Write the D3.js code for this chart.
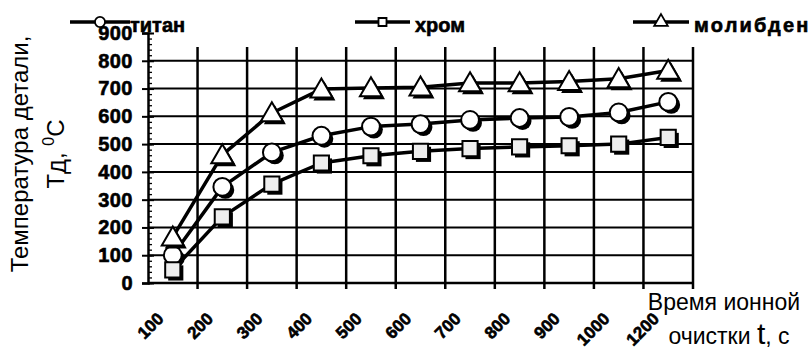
<!DOCTYPE html>
<html>
<head>
<meta charset="utf-8">
<script src="https://cdn.jsdelivr.net/npm/d3@7"></script>
<style>
  html, body { margin: 0; padding: 0; background: #fff; }
  svg { display: block; font-family: "Liberation Sans", Arial, sans-serif; }
</style>
</head>
<body>
<div id="chart"></div>
<script>
// ion cleaning time, s (no 1100 in the source)
const times = ['100', '200', '300', '400', '500', '600', '700', '800', '900', '1000', '1200']
// part temperature, deg C
const titan = [100, 346, 470, 530, 563, 572, 587, 594, 598, 614, 652]
const chrome = [47, 238, 356, 432, 458, 474, 484, 490, 494, 500, 524]
const molybdenum = [165, 461, 612, 698, 702, 705, 720, 720, 725, 735, 765]
const yTicks = [0, 100, 200, 300, 400, 500, 600, 700, 800, 900]

const seriesNames = ['титан', 'хром', 'молибден']
const seriesShapes = ['circle', 'square', 'triangle']

const width = 812
const height = 352
const plotLeft = 148, plotRight = 693, plotBottom = 283, plotTop = 33
const gridTop = 47

const svg = d3.select('#chart').append('svg')
  .attr('width', width)
  .attr('height', height)

const x = d3.scaleBand().domain(times).range([plotLeft, plotRight]).padding(0)
const y = d3.scaleLinear().domain([0, 900]).range([plotBottom, plotTop])

// scanned bold text looks heavier, thicken it a little
function heavy(sel) {
  sel.style('font-weight', 'bold')
    .attr('stroke', '#000')
    .attr('stroke-width', 0.6)
}

// horizontal grid
svg.append('g')
  .selectAll('line')
  .data(yTicks.filter(d => d > 0 && d < 900))
  .join('line')
    .attr('x1', plotLeft).attr('x2', plotRight)
    .attr('y1', d => y(d)).attr('y2', d => y(d))
    .attr('stroke', '#000').attr('stroke-width', 2)

// vertical grid at band edges, poking through the axis as ticks
svg.append('g')
  .selectAll('line')
  .data(times)
  .join('line')
    .attr('x1', d => x(d) + x.bandwidth()).attr('x2', d => x(d) + x.bandwidth())
    .attr('y1', gridTop).attr('y2', plotBottom + 6)
    .attr('stroke', '#000').attr('stroke-width', 2.5)

// x axis line
svg.append('line')
  .attr('x1', plotLeft).attr('x2', plotRight)
  .attr('y1', plotBottom).attr('y2', plotBottom)
  .attr('stroke', '#000').attr('stroke-width', 2.5)

// x tick labels, rotated, right end hooked under the band centre
svg.append('g')
  .selectAll('text')
  .data(times)
  .join('text')
    .attr('transform', d => `translate(${x(d) + x.bandwidth() / 2 - 12},${plotBottom + 33}) rotate(-45)`)
    .attr('text-anchor', 'end')
    .attr('dominant-baseline', 'central')
    .style('font-size', '17px')
    .call(heavy)
    .text(d => d)

// y axis: majors crossing, minors inside
const yAxis = svg.append('g')
  .attr('transform', `translate(${plotLeft},0)`)
  .call(d3.axisLeft(y).tickValues(yTicks).tickSize(6).tickPadding(9))
yAxis.select('.domain').attr('stroke-width', 2.5)
yAxis.selectAll('.tick line').attr('stroke-width', 2)
yAxis.selectAll('.tick text')
  .style('font-size', '20px')
  .style('letter-spacing', '0.5px')
  .attr('fill', '#000')
  .call(heavy)

svg.append('g')
  .attr('transform', `translate(${plotLeft},0)`)
  .call(d3.axisRight(y).tickValues(d3.range(0, 901, 20)).tickSize(4).tickFormat(''))
  .call(g => g.select('.domain').remove())
  .selectAll('.tick line').attr('stroke-width', 1.3)

svg.append('g')
  .attr('transform', `translate(${plotLeft},0)`)
  .call(d3.axisRight(y).tickValues(yTicks).tickSize(6).tickFormat(''))
  .call(g => g.select('.domain').remove())
  .selectAll('.tick line').attr('stroke-width', 2)

// markers
const circleSym = d3.symbol().type(d3.symbolCircle)
const squareSym = d3.symbol().type(d3.symbolSquare)
const triangleSym = d3.symbol().type(d3.symbolTriangle)

function markerPath(shape, big) {
  if (shape === 'circle') return circleSym.size(big ? 250 : 80)()
  if (shape === 'square') return squareSym.size(big ? 230 : 64)()
  return triangleSym.size(big ? 210 : 80)()
}

const allSeries = [titan, chrome, molybdenum]
const cx = d => x(d) + x.bandwidth() / 2

allSeries.forEach((vals, i) => {
  const pts = times.map((t, j) => [cx(t), y(vals[j])])
  svg.append('path')
    .attr('d', d3.line()(pts))
    .attr('fill', 'none')
    .attr('stroke', '#000')
    .attr('stroke-width', 3.5)
    .attr('stroke-linejoin', 'round')

  const g = svg.append('g')
  const shape = seriesShapes[i]
  const dy = shape === 'triangle' ? 2 : 0
  // shadow first
  g.selectAll('path.shadow')
    .data(pts)
    .join('path')
      .attr('class', 'shadow')
      .attr('transform', p => `translate(${p[0] + 3},${p[1] + dy + 3})`)
      .attr('d', markerPath(shape, true))
      .attr('fill', '#000')
  g.selectAll('path.mark')
    .data(pts)
    .join('path')
      .attr('class', 'mark')
      .attr('transform', p => `translate(${p[0]},${p[1] + dy})`)
      .attr('d', markerPath(shape, true))
      .attr('fill', shape === 'square' ? '#eee' : '#fff')
      .attr('stroke', '#000')
      .attr('stroke-width', 2)
})

// legend
const legendX = [[70, 130], [355, 410], [633, 689]]
const legendSpacing = [0, 0, 2.2]
const legendY = 22
seriesNames.forEach((name, i) => {
  const [x0, x1] = legendX[i]
  const g = svg.append('g')
  g.append('line')
    .attr('x1', x0).attr('x2', x1)
    .attr('y1', legendY).attr('y2', legendY)
    .attr('stroke', '#000').attr('stroke-width', 3.5)
  g.append('path')
    .attr('transform', `translate(${(x0 + x1) / 2},${legendY})`)
    .attr('d', markerPath(seriesShapes[i], false))
    .attr('fill', '#fff')
    .attr('stroke', '#000')
    .attr('stroke-width', 1.8)
  g.append('text')
    .attr('x', x1 + (i === 0 ? 0 : 5))
    .attr('y', legendY + 10)
    .style('font-size', '20px')
    .style('letter-spacing', legendSpacing[i] + 'px')
    .call(heavy)
    .text(name)
})

// y title
const yTitle = svg.append('text')
  .attr('transform', 'translate(28,154) rotate(-90)')
  .attr('text-anchor', 'middle')
  .style('font-size', '24px')
yTitle.append('tspan').attr('x', 0).attr('dy', 0).text('Температура детали,')
yTitle.append('tspan').attr('x', 0).attr('dy', 36).text('Т')
yTitle.append('tspan').style('font-size', '22px').attr('dy', 2).text('Д')
yTitle.append('tspan').attr('dy', -2).text(', ')
yTitle.append('tspan').style('font-size', '16px').attr('dy', -10).text('0')
yTitle.append('tspan').attr('dy', 10).text('C')

// x title
svg.append('text')
  .attr('x', 724).attr('y', 310)
  .attr('text-anchor', 'middle')
  .style('font-size', '23px')
  .text('Время ионной')
const xt2 = svg.append('text')
  .attr('x', 729).attr('y', 344)
  .attr('text-anchor', 'middle')
  .style('font-size', '23px')
xt2.append('tspan').text('очистки ')
xt2.append('tspan').style('font-size', '30px').text('t')
xt2.append('tspan').text(', с')
</script>
</body>
</html>
